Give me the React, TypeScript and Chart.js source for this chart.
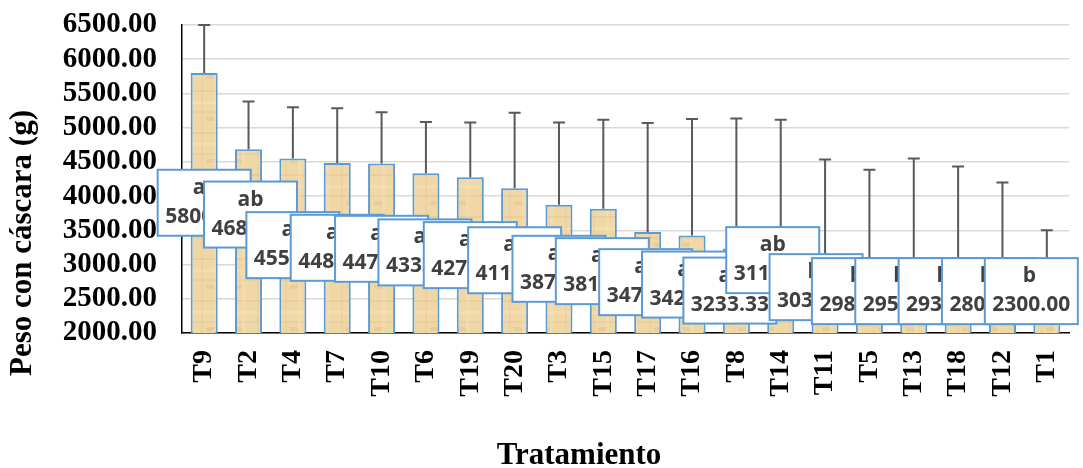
import React, { useEffect, useRef } from "react";
import { Chart, registerables } from "chart.js";

Chart.register(...registerables);

// ---------- data ----------
const CATEGORIES = ["T9", "T2", "T4", "T7", "T10", "T6", "T19", "T20", "T3", "T15", "T17", "T16", "T8", "T14", "T11", "T5", "T13", "T18", "T12", "T1"];
const MEANS = [5800, 4683.33, 4550, 4483.33, 4475, 4333.33, 4275, 4116.67, 3875, 3816.67, 3475, 3425, 3233.33, 3116.67, 3033.33, 2983.33, 2950, 2933.33, 2800, 2300];
const ERROR_TOP = [6500, 5383.33, 5300, 5283.33, 5225, 5083.33, 5075, 5216.67, 5075, 5116.67, 5066.67, 5125, 5133.33, 5116.67, 4533.33, 4383.33, 4550, 4433.33, 4200, 3500];
const LETTERS = ["a", "ab", "a", "a", "a", "a", "a", "a", "a", "a", "a", "a", "a", "ab", "b", "b", "b", "b", "b", "b"];
const Y_MIN = 2000;
const Y_MAX = 6500;
const Y_STEP = 500;
const Y_TITLE = "Peso con cáscara (g)";
const X_TITLE = "Tratamiento";

// ---------- label layout (box top in axis units, horizontal shift in px) ----------
const LABEL_TOP = [4385, 4213, 3766, 3727, 3712, 3660, 3620, 3545, 3420, 3386, 3225, 3190, 3102, 3547, 3152, 3094, 3094, 3094, 3094, 3094];
const LABEL_SHIFT = [0, 2, 0, 0, 0, -1, 0, 0, 0, -1, -2, -3.5, -6.5, -8, -9, -11, -12, -13, -14, -15.5];
const LETTER_SHIFT: Record<string, number> = { a: -5, ab: 0, b: -2 };

const SERIF = '"Liberation Serif", "Times New Roman", serif';
const SANS = '"Open Sans", "Liberation Sans", sans-serif';

function makePattern(ctx: CanvasRenderingContext2D): CanvasPattern | string {
  const c = document.createElement("canvas");
  c.width = 28;
  c.height = 42;
  const g = c.getContext("2d");
  if (!g) return "#EFD7A6";
  g.fillStyle = "#EFD7A6";
  g.fillRect(0, 0, 28, 42);
  const streaks: [number, number, number, number, string][] = [
    [0, 6, 28, 2, "rgba(190,150,90,0.12)"],
    [0, 17, 28, 3, "rgba(255,240,210,0.25)"],
    [0, 27, 28, 2, "rgba(190,150,90,0.10)"],
    [5, 0, 2, 42, "rgba(190,150,90,0.08)"],
    [18, 0, 3, 42, "rgba(255,240,210,0.18)"],
    [10, 33, 8, 4, "rgba(180,140,80,0.12)"],
  ];
  for (const [x, y, w, h, col] of streaks) {
    g.fillStyle = col;
    g.fillRect(x, y, w, h);
  }
  return ctx.createPattern(c, "repeat") || "#EFD7A6";
}

const errorBarsPlugin = {
  id: "errorBars",
  afterDatasetsDraw(chart: any) {
    const ctx = chart.ctx;
    const meta = chart.getDatasetMeta(0);
    const y = chart.scales.y;
    ctx.save();
    ctx.strokeStyle = "#595959";
    ctx.lineWidth = 2;
    meta.data.forEach((bar: any, i: number) => {
      const top = y.getPixelForValue(ERROR_TOP[i]);
      ctx.beginPath();
      ctx.moveTo(bar.x, bar.y);
      ctx.lineTo(bar.x, top);
      ctx.moveTo(bar.x - 6, top);
      ctx.lineTo(bar.x + 6, top);
      ctx.stroke();
    });
    ctx.restore();
  },
};

const boxLabelsPlugin = {
  id: "boxLabels",
  afterDatasetsDraw(chart: any) {
    const ctx = chart.ctx;
    const meta = chart.getDatasetMeta(0);
    const y = chart.scales.y;
    const w = 93;
    const h = 66;
    ctx.save();
    meta.data.forEach((bar: any, i: number) => {
      const cx = bar.x + LABEL_SHIFT[i];
      const top = y.getPixelForValue(LABEL_TOP[i]);
      const left = cx - w / 2;
      ctx.fillStyle = "#FFFFFF";
      ctx.fillRect(left, top, w, h);
      ctx.strokeStyle = "#5B9BD5";
      ctx.lineWidth = 2;
      ctx.strokeRect(left, top, w, h);
      ctx.fillStyle = "#404040";
      ctx.font = `bold 21px ${SANS}`;
      ctx.textAlign = "center";
      ctx.textBaseline = "middle";
      ctx.fillText(LETTERS[i], cx + (LETTER_SHIFT[LETTERS[i]] || 0), top + 18);
      ctx.fillText(MEANS[i].toFixed(2), cx, top + 47);
    });
    ctx.restore();
  },
};

const axisTitlesPlugin = {
  id: "axisTitles",
  afterDraw(chart: any) {
    const ctx = chart.ctx;
    ctx.save();
    ctx.fillStyle = "#000000";
    ctx.font = `bold 31px ${SERIF}`;
    ctx.textAlign = "center";
    ctx.textBaseline = "middle";
    ctx.fillText(X_TITLE, 579, 456);
    ctx.translate(23, 243);
    ctx.rotate(-Math.PI / 2);
    ctx.fillText(Y_TITLE, 0, 0);
    ctx.restore();
  },
};

export default function App() {
  const ref = useRef<HTMLCanvasElement | null>(null);

  useEffect(() => {
    const canvas = ref.current;
    if (!canvas) return;
    const ctx = canvas.getContext("2d");
    if (!ctx) return;
    const pattern = makePattern(ctx);
    const chart = new Chart(canvas, {
      type: "bar",
      data: {
        labels: CATEGORIES,
        datasets: [
          {
            data: MEANS,
            backgroundColor: pattern as any,
            borderColor: "#5B9BD5",
            borderWidth: 2,
            categoryPercentage: 1,
            barPercentage: 0.61,
          },
        ],
      },
      options: {
        animation: false,
        responsive: true,
        maintainAspectRatio: false,
        layout: { padding: { top: 25, right: 14, left: 0, bottom: 0 } },
        plugins: {
          legend: { display: false },
          tooltip: { enabled: false },
        },
        scales: {
          x: {
            grid: { display: false, drawTicks: false },
            border: { display: true, color: "#000000", width: 1.5 },
            ticks: {
              autoSkip: false,
              minRotation: 90,
              maxRotation: 90,
              padding: 17,
              color: "#000000",
              font: { family: SERIF, size: 28, weight: "bold" },
            },
            afterFit(scale: any) {
              scale.height = 135;
              scale.paddingTop = 0;
              scale.paddingBottom = 0;
              scale.paddingLeft = 0;
              scale.paddingRight = 0;
            },
          },
          y: {
            min: Y_MIN,
            max: Y_MAX,
            grid: { color: "#D9D9D9", lineWidth: 1.5, drawTicks: false },
            border: { display: true, color: "#000000", width: 1.5 },
            ticks: {
              stepSize: Y_STEP,
              autoSkip: false,
              padding: 25,
              color: "#000000",
              font: { family: SERIF, size: 29, weight: "bold" },
              callback: (v: any) => Number(v).toFixed(2),
            },
            afterFit(scale: any) {
              scale.width = 182;
              scale.paddingTop = 0;
              scale.paddingBottom = 0;
            },
          },
        },
      },
      plugins: [errorBarsPlugin, boxLabelsPlugin, axisTitlesPlugin],
    });
    return () => chart.destroy();
  }, []);

  return (
    <div style={{ position: "absolute", left: 0, top: 0, width: 1083, height: 468, background: "#FFFFFF" }}>
      <canvas ref={ref} />
    </div>
  );
}
